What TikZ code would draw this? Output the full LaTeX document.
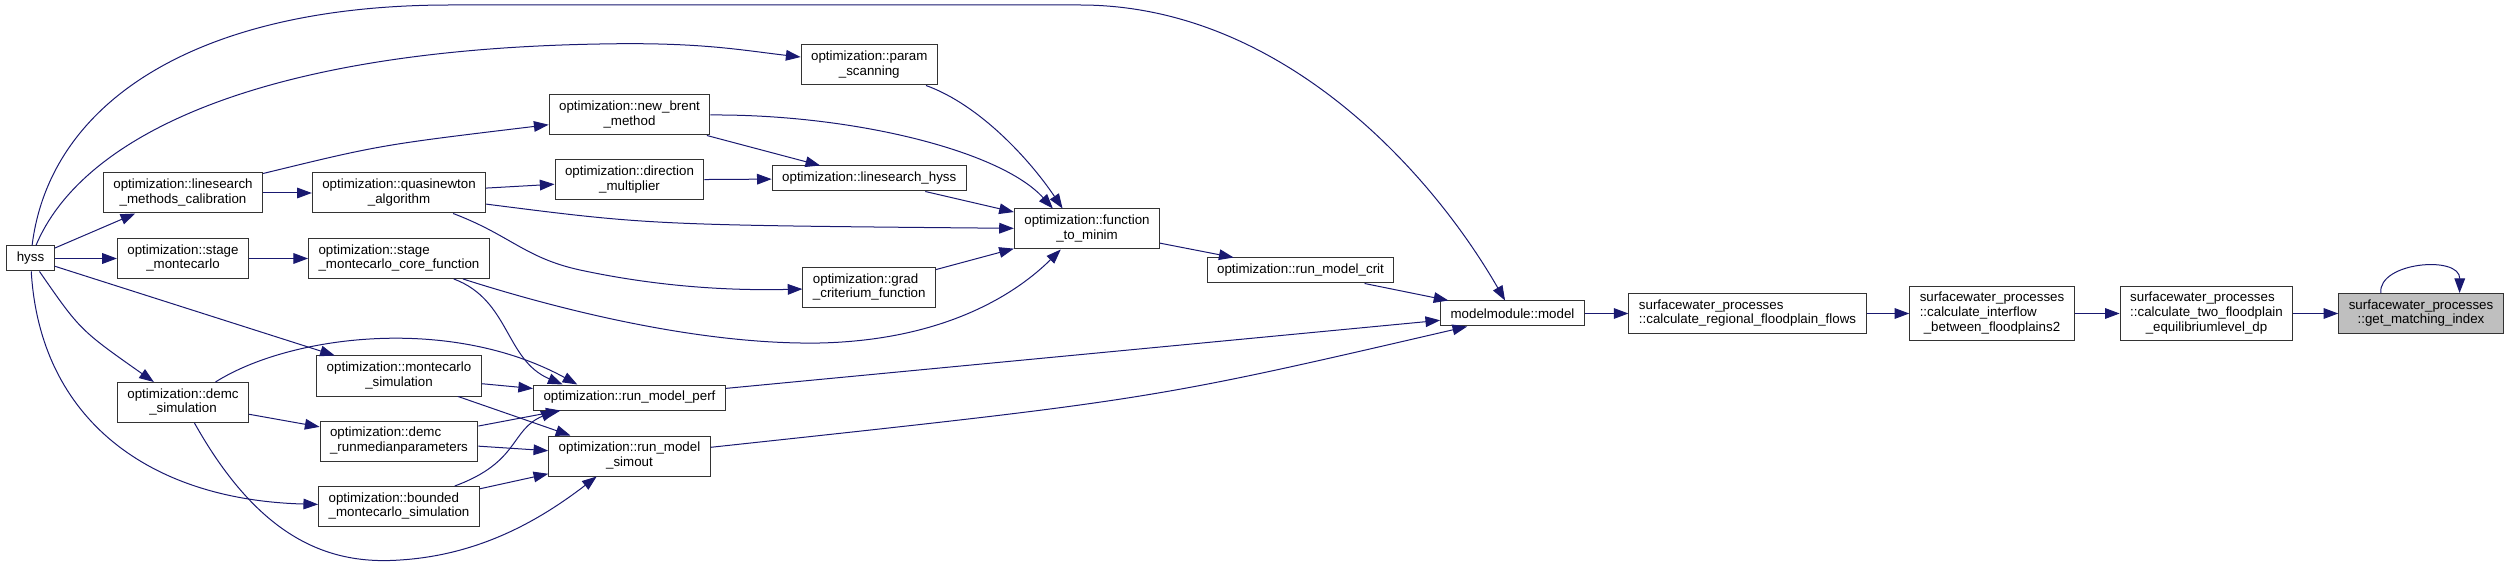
\documentclass[tikz,border=0pt]{standalone}
\usepackage{fontspec}
\setmainfont{Liberation Sans}
\usetikzlibrary{positioning}
\usetikzlibrary{shapes, arrows.meta}
\definecolor{edgeblue}{HTML}{191970}
\definecolor{focusgrey}{HTML}{BFBFBF}
\newcommand{\twoline}[2]{\begin{tabular}{@{}l@{}}#1\\\multicolumn{1}{@{}c@{}}{#2}\end{tabular}}

\begin{document}
\begin{tikzpicture}[x=0.75pt, y=-0.75pt, node distance=49.125pt]
    \tikzstyle{block} = [rectangle, draw=black!80, fill=white, line width=0.75pt,
    font=\fontsize{10pt}{11pt}\selectfont, inner xsep=7.5pt, inner ysep=4pt,
    minimum height=18.75pt]
    \tikzstyle{focus} = [block, fill=focusgrey]
    \tikzstyle{line} = [draw=edgeblue, line width=0.75pt,
    -{Triangle[length=11pt, width=8pt]}]
    \useasboundingbox (0,0) rectangle (2508,566);
    \node [block] (hyss) at (30.5,258.5) {hyss};
    \node [block] (lmc) at (183,193) {\twoline{optimization::linesearch}{\_methods\_calibration}};
    \node [block, below of=lmc] (smc) {\twoline{optimization::stage}{\_montecarlo}};
    \node [block, below of=smc, node distance=108pt] (demc) {\twoline{optimization::demc}{\_simulation}};
    \node [block] (qn) at (399,193) {\twoline{optimization::quasinewton}{\_algorithm}};
    \node [block, below of=qn] (core) {\twoline{optimization::stage}{\_montecarlo\_core\_function}};
    \node [block, below of=core, node distance=88.125pt] (mcs) {\twoline{optimization::montecarlo}{\_simulation}};
    \node [block, below of=mcs, node distance=48.75pt] (runmed) {\twoline{optimization::demc}{\_runmedianparameters}};
    \node [block, below of=runmed] (bmcs) {\twoline{optimization::bounded}{\_montecarlo\_simulation}};
    \node [block] (brent) at (629.5,115) {\twoline{optimization::new\_brent}{\_method}};
    \node [block, below of=brent, node distance=48.75pt] (dirm) {\twoline{optimization::direction}{\_multiplier}};
    \node [block] (perf) at (629.5,397.5) {optimization::run\_model\_perf};
    \node [block, below of=perf, node distance=43.875pt] (simout) {\twoline{optimization::run\_model}{\_simout}};
    \node [block] (param) at (869.25,65) {\twoline{optimization::param}{\_scanning}};
    \node [block, below of=param, node distance=85.125pt] (lsh) {optimization::linesearch\_hyss};
    \node [block, below of=lsh, node distance=81.75pt] (grad) {\twoline{optimization::grad}{\_criterium\_function}};
    \node [block] (ftm) at (1087,229) {\twoline{optimization::function}{\_to\_minim}};
    \node [block] (crit) at (1300.5,270.5) {optimization::run\_model\_crit};
    \node [block] (model) at (1512.5,313.5) {modelmodule::model};
    \node [block, right of=model, node distance=176.25pt] (regional)
    {\twoline{surfacewater\_processes}{::calculate\_regional\_floodplain\_flows}};
    \node [block, right of=regional, node distance=183.375pt] (interflow)
    {\twoline{surfacewater\_processes\\::calculate\_interflow}{\_between\_floodplains2}};
    \node [block, right of=interflow, node distance=160.875pt] (twofp)
    {\twoline{surfacewater\_processes\\::calculate\_two\_floodplain}{\_equilibriumlevel\_dp}};
    \node [focus, right of=twofp, node distance=160.875pt] (gmi)
    {\twoline{surfacewater\_processes}{::get\_matching\_index}};
    \path [line] (hyss) .. controls (50,100) and (200,5) .. (450,5) -- (1080,5)
    .. controls (1280,5) and (1430,170) .. (model);
    \path [line] (hyss) .. controls (80,140) and (250,50) .. (600,44)
    .. controls (700,42) and (740,50) .. (param);
    \path [line] (hyss) -- (lmc);
    \path [line] (hyss) -- (smc);
    \path [line] (hyss) -- (mcs);
    \path [line] (hyss) .. controls (80,330) .. (demc);
    \path [line] (hyss) .. controls (40,420) and (150,500) .. (bmcs);
    \path [line] (lmc) -- (qn);
    \path [line] (lmc) .. controls (380,145) .. (brent);
    \path [line] (smc) -- (core);
    \path [line] (qn) -- (dirm);
    \path [line] (qn) .. controls (650,225) .. (ftm);
    \path [line] (qn) .. controls (510,235) and (525,258) .. (580,270)
    .. controls (650,285) and (720,291) .. (grad);
    \path [line] (brent.east) .. controls (850,114) and (1000,150) .. (ftm.149);
    \path [line] (brent) -- (lsh);
    \path [line] (dirm) -- (lsh);
    \path [line] (param) .. controls (980,105) and (1030,160) .. (ftm.140);
    \path [line] (lsh) -- (ftm);
    \path [line] (grad) -- (ftm);
    \path [line] (core) .. controls (560,310) and (700,345) .. (820,343)
    .. controls (950,340) and (1020,290) .. (ftm.218);
    \path [line] (core) .. controls (510,300) and (505,360) .. (perf.169);
    \path [line] (demc) .. controls (290,335) and (450,315) .. (perf.166);
    \path [line] (mcs) -- (perf);
    \path [line] (mcs) -- (simout);
    \path [line] (demc) -- (runmed);
    \path [line] (demc) .. controls (260,540) and (330,565) .. (400,560)
    .. controls (480,555) and (540,520) .. (simout.212);
    \path [line] (runmed) -- (perf);
    \path [line] (runmed) -- (simout);
    \path [line] (bmcs) .. controls (520,462) and (510,430) .. (perf.190);
    \path [line] (bmcs) -- (simout);
    \path [line] (ftm) -- (crit);
    \path [line] (crit) -- (model);
    \path [line] (perf) -- (model);
    \path [line] (simout) .. controls (1150,400) .. (model.196);
    \path [line] (model) -- (regional);
    \path [line] (regional) -- (interflow);
    \path [line] (interflow) -- (twofp);
    \path [line] (twofp) -- (gmi);
    \path [line] (gmi.153) .. controls (2378,262) and (2460,255) .. (gmi.28);
\end{tikzpicture}
\end{document}
